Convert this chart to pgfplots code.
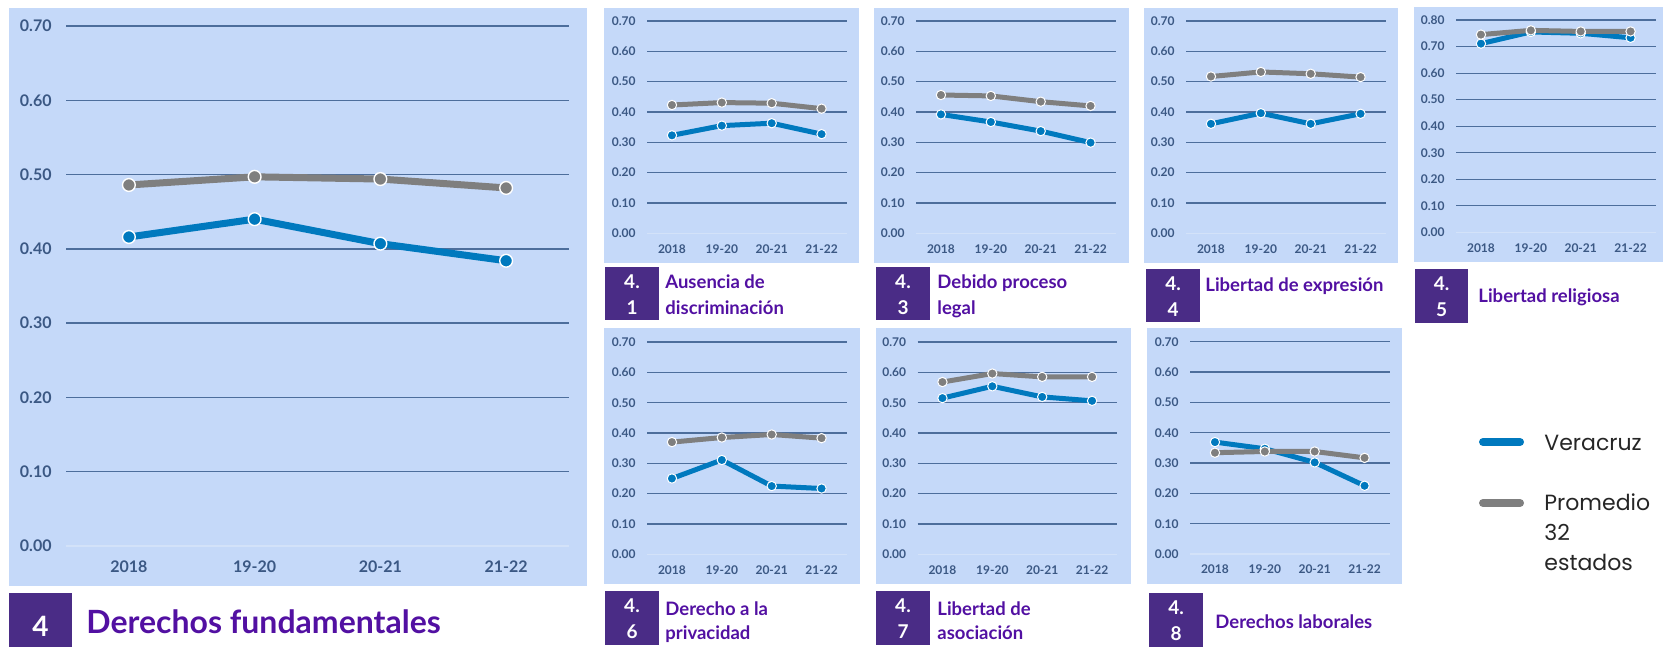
\documentclass[border=0pt]{standalone}
\usepackage{fontspec}
\setmainfont{Lato}
\newfontfamily\legfont{Poppins}
\usepackage{pgfplots}
\pgfplotsset{compat=1.18}

\definecolor{bgblue}{HTML}{C5D9F9}
\definecolor{gridc}{HTML}{4D6E9C}
\definecolor{zeroc}{HTML}{D3E2F9}
\definecolor{tickc}{HTML}{3B5884}
\definecolor{vblue}{HTML}{0079BE}
\definecolor{pgray}{HTML}{7F7F7F}
\definecolor{boxc}{HTML}{4A2C86}
\definecolor{titc}{HTML}{5210A2}

\pgfplotsset{
  basepanel/.style={scale only axis, anchor=south west,
    xmin=-0.5, xmax=3.5, ymin=0,
    axis line style={draw=none}, major tick length=0pt,
    xtick={0,1,2,3}, xticklabels={2018,19-20,20-21,21-22},
    ymajorgrids,
    extra y ticks={0}, extra y tick labels={0.00},
    extra y tick style={major grid style={zeroc, line width=0.6pt}},
    y tick label style={/pgf/number format/fixed, /pgf/number format/fixed zerofill,
      /pgf/number format/precision=2, /pgf/number format/assume math mode=true},
    tick label style={text=tickc},
    clip=false},
  mainpanel/.style={basepanel, width=251.5pt, height=260pt, ymax=0.7,
    ytick={0.1,0.2,0.3,0.4,0.5,0.6,0.7},
    major grid style={gridc, line width=0.7pt},
    tick label style={font=\fontsize{8}{9.6}\selectfont\bfseries},
    yticklabel style={anchor=east, inner sep=0pt, xshift=-7pt},
    xticklabel style={anchor=center, inner sep=0pt, yshift=-10.3pt}},
  smallpanel/.style={basepanel, width=99.75pt, height=106.15pt, ymax=0.7,
    ytick={0.1,0.2,0.3,0.4,0.5,0.6,0.7},
    major grid style={gridc, line width=0.55pt},
    tick label style={font=\fontsize{6}{7.2}\selectfont\bfseries},
    yticklabel style={anchor=east, inner sep=0pt, xshift=-5.5pt},
    xticklabel style={anchor=center, inner sep=0pt, yshift=-7.7pt}},
  mn/.style={color=#1, line width=3.5pt, line join=round, mark=*, mark size=3.2pt,
    mark options={fill=#1, draw=white, line width=0.7pt}},
  sm/.style={color=#1, line width=2.5pt, line join=round, mark=*, mark size=2.35pt,
    mark options={fill=#1, draw=white, line width=0.5pt}},
}

\newcommand{\numbox}[5]{%
  \fill[boxc] (#1,#2) rectangle (#3,#4);
  \node[anchor=base, inner sep=0pt, text=white, font=\fontsize{9.5}{10}\selectfont\bfseries] at ({(#1+#3)/2},{#2+21.5}) {4.};
  \node[anchor=base, inner sep=0pt, text=white, font=\fontsize{9.5}{10}\selectfont\bfseries] at ({(#1+#3)/2},{#2+47.5}) {#5};
}
\newcommand{\ttl}[3]{%
  \node[anchor=base west, inner sep=0pt, text=titc, font=\fontsize{9.25}{10}\selectfont\bfseries] at (#1,#2) {#3};
}

\begin{document}
\begin{tikzpicture}[x=0.5pt,y=-0.5pt]
% panel backgrounds
\fill[bgblue] (9,8) rectangle (587,586);
\fill[bgblue] (604,8) rectangle (859,263);
\fill[bgblue] (874,8) rectangle (1129,263);
\fill[bgblue] (1144,8) rectangle (1398,263);
\fill[bgblue] (1414,7) rectangle (1663,262);
\fill[bgblue] (604,328) rectangle (860,584);
\fill[bgblue] (876,328) rectangle (1131,584);
\fill[bgblue] (1147,328) rectangle (1402,584);

% 4 Derechos fundamentales
\begin{axis}[mainpanel, at={(33pt,-273pt)}]
\addplot[mn=vblue] coordinates {(0,0.416) (1,0.440) (2,0.407) (3,0.384)};
\addplot[mn=pgray] coordinates {(0,0.486) (1,0.497) (2,0.494) (3,0.482)};
\end{axis}

% 4.1
\begin{axis}[smallpanel, at={(323.5pt,-116.65pt)}]
\addplot[sm=vblue] coordinates {(0,0.323) (1,0.355) (2,0.363) (3,0.327)};
\addplot[sm=pgray] coordinates {(0,0.423) (1,0.431) (2,0.429) (3,0.411)};
\end{axis}

% 4.3
\begin{axis}[smallpanel, at={(458pt,-116.65pt)}]
\addplot[sm=vblue] coordinates {(0,0.392) (1,0.367) (2,0.337) (3,0.299)};
\addplot[sm=pgray] coordinates {(0,0.456) (1,0.453) (2,0.434) (3,0.420)};
\end{axis}

% 4.4
\begin{axis}[smallpanel, at={(593pt,-116.65pt)}]
\addplot[sm=vblue] coordinates {(0,0.361) (1,0.396) (2,0.361) (3,0.394)};
\addplot[sm=pgray] coordinates {(0,0.517) (1,0.532) (2,0.526) (3,0.515)};
\end{axis}

% 4.5
\begin{axis}[smallpanel, at={(728pt,-116.15pt)}, ymax=0.8,
  ytick={0.1,0.2,0.3,0.4,0.5,0.6,0.7,0.8}]
\addplot[sm=vblue] coordinates {(0,0.711) (1,0.755) (2,0.750) (3,0.733)};
\addplot[sm=pgray] coordinates {(0,0.745) (1,0.761) (2,0.757) (3,0.757)};
\end{axis}

% 4.6
\begin{axis}[smallpanel, at={(323.5pt,-277.15pt)}]
\addplot[sm=vblue] coordinates {(0,0.250) (1,0.311) (2,0.225) (3,0.217)};
\addplot[sm=pgray] coordinates {(0,0.370) (1,0.385) (2,0.395) (3,0.383)};
\end{axis}

% 4.7
\begin{axis}[smallpanel, at={(458.75pt,-277.15pt)}]
\addplot[sm=vblue] coordinates {(0,0.515) (1,0.554) (2,0.519) (3,0.506)};
\addplot[sm=pgray] coordinates {(0,0.568) (1,0.596) (2,0.585) (3,0.585)};
\end{axis}

% 4.8
\begin{axis}[smallpanel, at={(595pt,-277pt)}]
\addplot[sm=vblue] coordinates {(0,0.369) (1,0.347) (2,0.302) (3,0.225)};
\addplot[sm=pgray] coordinates {(0,0.334) (1,0.338) (2,0.338) (3,0.317)};
\end{axis}

% titles
\fill[boxc] (9,593) rectangle (72,647);
\node[anchor=base, inner sep=0pt, text=white, font=\fontsize{14}{15}\selectfont\bfseries] at (40.5,636) {4};
\node[anchor=base west, inner sep=0pt, text=titc, font=\fontsize{16}{18}\selectfont\bfseries] at (86,633) {Derechos fundamentales};

\numbox{605}{267}{659}{320}{1}
\ttl{665}{288}{Ausencia de}
\ttl{665}{314}{discriminación}

\numbox{876}{267}{930}{320}{3}
\ttl{937}{288}{Debido proceso}
\ttl{937}{314}{legal}

\numbox{1146}{269}{1200}{322}{4}
\ttl{1205}{291}{Libertad de expresión}

\numbox{1415}{269}{1468}{323}{5}
\ttl{1478}{302}{Libertad religiosa}

\numbox{605}{591}{659}{645}{6}
\ttl{665}{615}{Derecho a la}
\ttl{665}{639}{privacidad}

\numbox{876}{591}{930}{645}{7}
\ttl{937}{615}{Libertad de}
\ttl{937}{639}{asociación}

\numbox{1149}{593}{1203}{647}{8}
\ttl{1215}{628}{Derechos laborales}

% legend
\draw[vblue, line width=4pt, line cap=round] (1483,442) -- (1520,442);
\draw[pgray, line width=4pt, line cap=round] (1483,503) -- (1520,503);
\begin{scope}[every node/.style={anchor=base west, inner sep=0pt, text=black!85, font=\legfont\fontsize{11}{13}\selectfont}]
\node at (1544,450) {Veracruz};
\node at (1544,510) {Promedio};
\node at (1544,540) {32};
\node at (1544,570) {estados};
\end{scope}

\pgfresetboundingbox
\path (0,0) rectangle (1663,647);
\end{tikzpicture}
\end{document}
